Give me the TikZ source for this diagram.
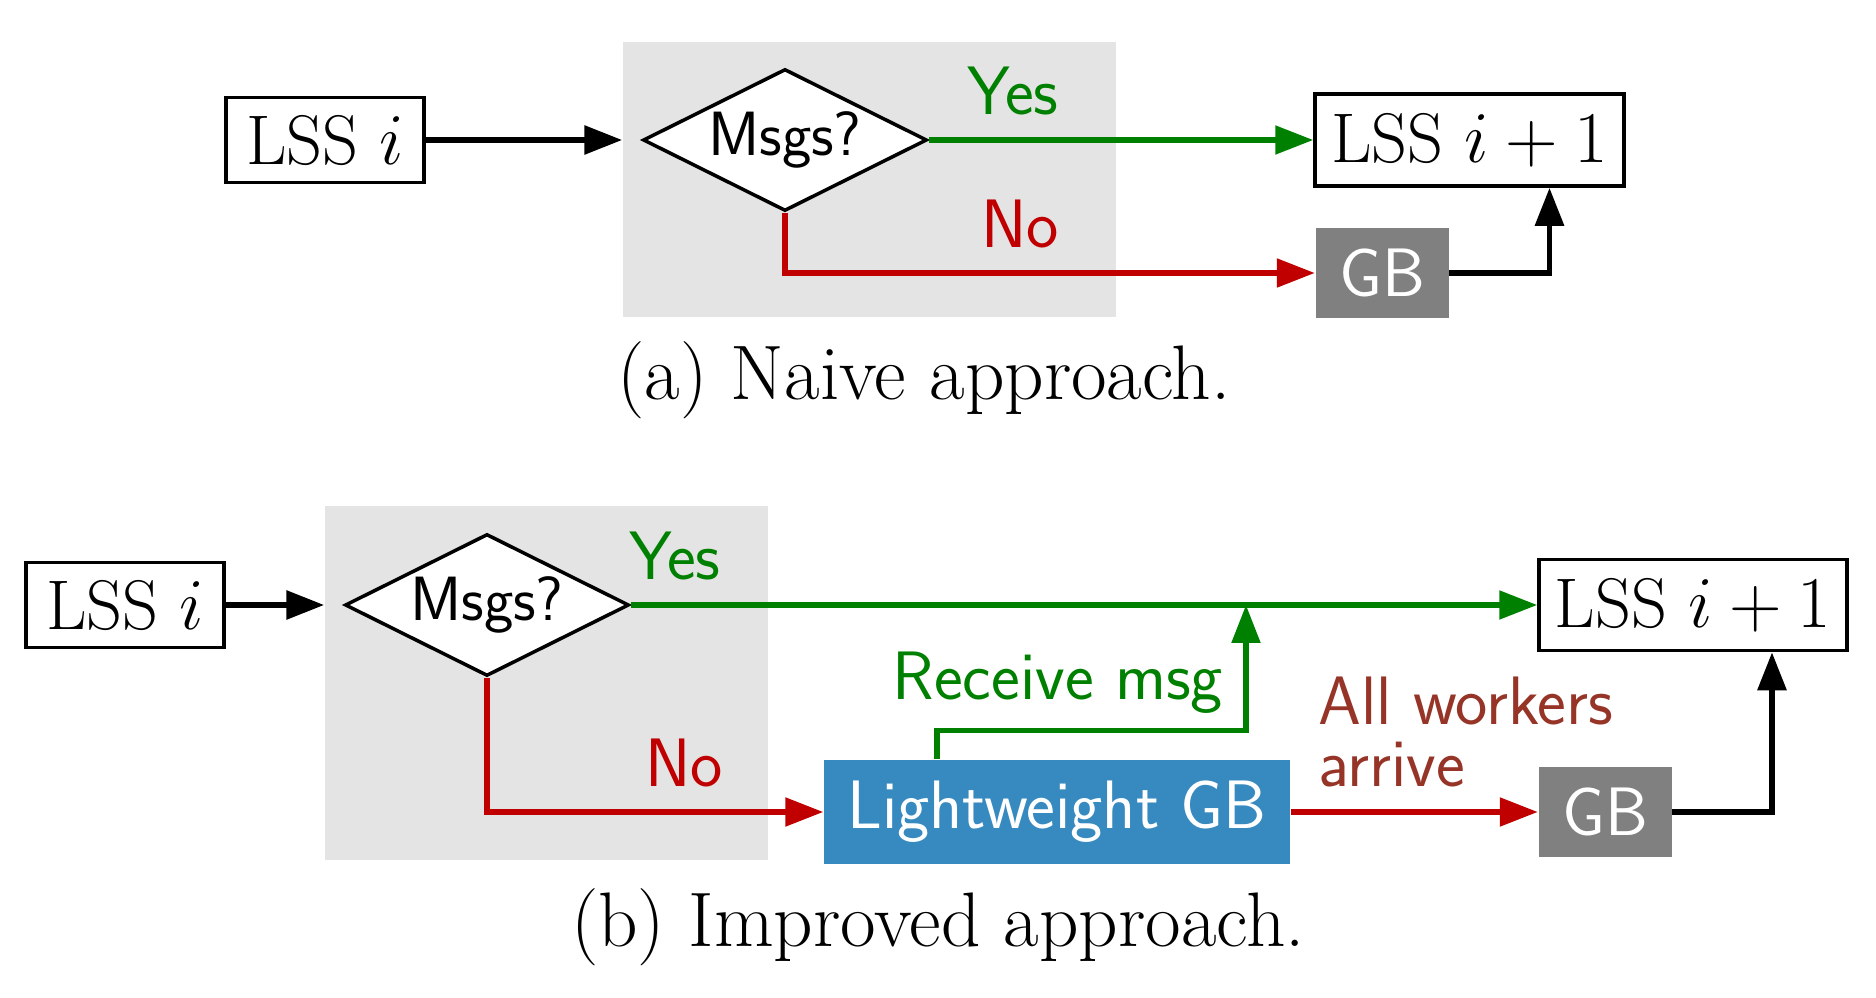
\documentclass[tikz,border=0pt]{standalone}
\usepackage{amsmath}
\usepackage{xcolor}
\usepackage{tikz}
\usetikzlibrary{shapes,arrows.meta,positioning}

\definecolor{yesgreen}{RGB}{0,128,0}
\definecolor{nored}{RGB}{192,0,0}
\definecolor{arrivebrown}{RGB}{150,52,40}
\definecolor{lightblue}{RGB}{54,138,192}
\definecolor{panelgray}{RGB}{228,228,228}

\begin{document}
\begin{tikzpicture}[
  x=0.1mm, y=-0.1mm,
  panel/.style={rectangle, fill=panelgray, inner sep=0pt},
  lss/.style={rectangle, draw, line width=1pt, fill=white, inner sep=0pt, font=\fontsize{20}{22}\selectfont},
  decision/.style={diamond, draw, line width=1pt, fill=white, aspect=2, inner sep=0pt, minimum width=2.84cm, minimum height=1.42cm, font=\fontsize{17.8}{20}\sffamily},
  gb/.style={rectangle, fill=gray, text=white, inner sep=0pt, minimum width=1.33cm, minimum height=0.9cm, font=\fontsize{19.5}{22}\sffamily},
  lightgb/.style={rectangle, fill=lightblue, text=white, inner sep=0pt, minimum width=4.66cm, minimum height=1.04cm, font=\fontsize{19.5}{22}\sffamily},
  lbl/.style={anchor=base, inner sep=0pt, font=\fontsize{19.5}{17.6}\sffamily},
  caption/.style={anchor=base, inner sep=0pt, font=\fontsize{22}{24}\selectfont},
  arrow/.style={-{Triangle[length=3.8mm, width=2.8mm]}, line width=1.7pt},
  yesline/.style={arrow, yesgreen, line width=1.5pt},
  noline/.style={arrow, nored, line width=1.5pt}
]
  \useasboundingbox (0,0) rectangle (1876,998);

  % (a) naive approach
  \node[panel, minimum width=4.93cm, minimum height=2.75cm] (panelA) at (869.5,179.5) {};
  \node[lss, minimum width=1.98cm, minimum height=0.85cm] (lssA) at (325,140) {LSS $i$};
  \node[decision] (msgsA) at (785,140) {Msgs?};
  \node[lss, minimum width=3.09cm, minimum height=0.92cm] (nextA) at (1469.5,140) {LSS $i+1$};
  \node[gb] (gbA) at (1382,273) {GB};

  \node[lbl, yesgreen] (yesA) at (1013,115) {Yes};
  \node[lbl, nored] (noA) at (1020,248) {No};
  \node[caption] (capA) at (924,400) {(a) Naive approach.};

  \draw[arrow] (lssA) -- (panelA.west |- lssA);
  \draw[yesline] (msgsA.east) -- (nextA.west);
  \draw[noline] (msgsA.south) |- (gbA.west);
  \draw[arrow] (gbA.east) -| ([xshift=0.8cm]nextA.south);

  % (b) improved approach
  \node[panel, minimum width=4.43cm, minimum height=3.54cm] (panelB) at (546.5,683) {};
  \node[lss, minimum width=1.98cm, minimum height=0.85cm] (lssB) at (125,605) {LSS $i$};
  \node[decision] (msgsB) at (487,605) {Msgs?};
  \node[lss, minimum width=3.08cm, minimum height=0.91cm] (nextB) at (1693,605) {LSS $i+1$};
  \node[lightgb] (light) at (1057,812) {Lightweight GB};
  \node[gb] (gbB) at (1605,812) {GB};
  \coordinate (join) at (1246,605);

  \node[lbl, yesgreen] (yesB) at (675,580) {Yes};
  \node[lbl, nored] (noB) at (684,787) {No};
  \node[lbl, yesgreen] (recv) at (1058,700) {Receive msg};
  \node[lbl, arrivebrown, align=left, anchor=north west] (arrive) at (1318,676) {All workers\\arrive};
  \node[caption] (capB) at (938,946) {(b) Improved approach.};

  \draw[arrow] (lssB) -- (panelB.west |- lssB);
  \draw[yesline] (msgsB.east) -- (nextB.west);
  \draw[noline] (msgsB.south) |- (light.west);
  \draw[yesline] ([xshift=-1.2cm]light.north) -- ++(0,-29) -| (join);
  \draw[noline] (light.east) -- (gbB.west);
  \draw[arrow] (gbB.east) -| ([xshift=0.79cm]nextB.south);
\end{tikzpicture}
\end{document}
